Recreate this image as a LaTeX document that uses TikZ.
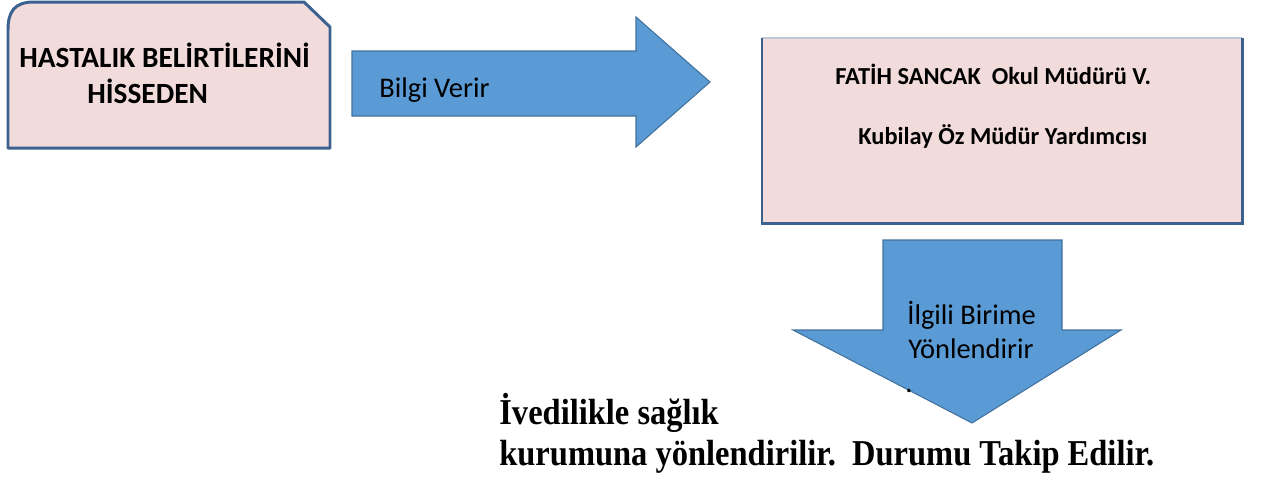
\documentclass[tikz,border=0pt]{standalone}
\usepackage{fontspec}
\setmainfont{Liberation Serif}
\newfontfamily\calibri{Carlito}
\definecolor{boxpink}{HTML}{F2DCDB}
\definecolor{boxline}{HTML}{3B6190}
\definecolor{arrowblue}{HTML}{5B9BD5}
\definecolor{arrowline}{HTML}{41719C}
\tikzset{
  pinkbox/.style={fill=boxpink, draw=boxline, line width=1.7pt, line join=round},
  bluearrow/.style={fill=arrowblue, draw=arrowline, line width=0.6pt},
  titletext/.style={font=\calibri\bfseries\fontsize{16.7}{20}\selectfont, inner sep=0pt, anchor=base west},
  nametext/.style={font=\calibri\bfseries\fontsize{13.9}{17}\selectfont, inner sep=0pt, anchor=base west},
  arrowtext/.style={font=\calibri\fontsize{16.2}{19}\selectfont, inner sep=0pt, anchor=base west},
  notetext/.style={font=\bfseries\fontsize{18.5}{22}\selectfont, inner sep=0pt, anchor=base west}
}
\begin{document}
\begin{tikzpicture}[x=0.02cm, y=-0.02cm]
  \useasboundingbox (0,0) rectangle (1262,478);

  \draw[pinkbox] (8,148) -- (8,30) .. controls (8,12) and (14,2) .. (34,2)
    -- (304,2) -- (330,27) -- (330,148) -- cycle;
  \node[titletext] (hastalik) at (19,67) {HASTALIK BELİRTİLERİNİ};
  \node[titletext] (hisseden) at (87,103) {HİSSEDEN};

  \draw[bluearrow] (352,51) -- (636,51) -- (636,17) -- (710,82) -- (636,147)
    -- (636,116) -- (352,116) -- cycle;
  \node[arrowtext] (bilgi) at (379,97) {Bilgi Verir};

  \fill[boxpink] (762,38) rectangle (1242,223);
  \draw[boxline!35, line width=0.6pt] (762,38) -- (1242,38);
  \draw[boxline, line width=1.7pt] (762,38) -- (762,223) -- (1242,223) -- (1242,38);
  \node[nametext] (mudur) at (835,84) {FATİH SANCAK\ \ Okul Müdürü V.};
  \node[nametext] (yardimci) at (858,144) {Kubilay Öz Müdür Yardımcısı};

  \draw[bluearrow] (883,240) -- (1062,240) -- (1062,330) -- (1121,330) -- (972,423)
    -- (793,330) -- (883,330) -- cycle;
  \node[arrowtext] (ilgili) at (907,324) {İlgili Birime};
  \node[arrowtext] (yonlendirir) at (908,358) {Yönlendirir};
  \node[arrowtext] (nokta) at (905,392) {.};

  \node[notetext] (ivedi) at (499,424) {\scalebox{1}[1.12]{İvedilikle sağlık}};
  \node[notetext] (kurum) at (499,465) {\scalebox{1}[1.12]{kurumuna yönlendirilir.\ \ Durumu Takip Edilir.}};
\end{tikzpicture}
\end{document}
